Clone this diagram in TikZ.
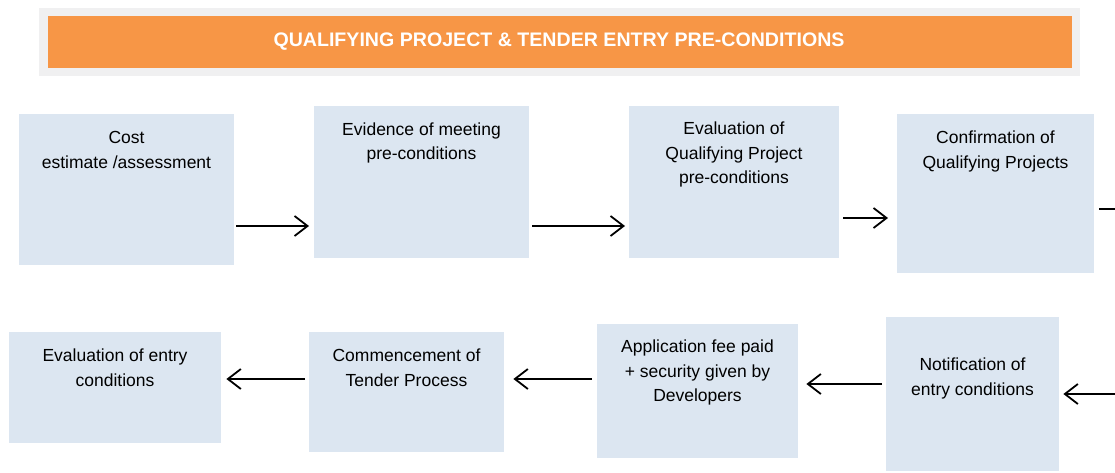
\documentclass[tikz,border=0pt]{standalone}
\usepackage{fontspec}
\setmainfont{Liberation Sans}
\usetikzlibrary{arrows.meta,calc}
\definecolor{boxblue}{HTML}{DCE6F1}
\definecolor{bannerorange}{HTML}{F79646}
\definecolor{bannergrey}{HTML}{F0F0F1}
\begin{document}
\begin{tikzpicture}[x=1pt,y=-1pt,
  stepbox/.style={fill=boxblue,draw=none,inner sep=0pt,anchor=north west},
  boxtext/.style={anchor=base,align=center,inner sep=0pt,font=\fontsize{17.5}{24.5}\selectfont},
  arr/.style={line width=1.8pt,-{Straight Barb[length=13pt,width=20pt,line width=1.8pt]}},
  plainline/.style={line width=1.8pt}]
\useasboundingbox (0,0) rectangle (1115,473);
% banner
\node[fill=bannergrey,inner sep=0pt,minimum width=1041pt,minimum height=68pt,anchor=north west] (bannerbg) at (39,8) {};
\node[fill=bannerorange,inner sep=0pt,minimum width=1024pt,minimum height=52pt,anchor=north west] (banner) at (48,16) {};
\node[text=white,font=\bfseries\fontsize{19.6}{24}\selectfont,inner sep=0pt] (title) at (559,42) {QUALIFYING PROJECT \& TENDER ENTRY PRE-CONDITIONS};
% row 1 boxes
\node[stepbox,minimum width=215pt,minimum height=151pt] (b1) at (19,114) {};
\node[stepbox,minimum width=215pt,minimum height=152pt] (b2) at (314,106) {};
\node[stepbox,minimum width=210pt,minimum height=152pt] (b3) at (629,106) {};
\node[stepbox,minimum width=197pt,minimum height=159pt] (b4) at (897,114) {};
% row 2 boxes
\node[stepbox,minimum width=212pt,minimum height=111pt] (b5) at (9,332) {};
\node[stepbox,minimum width=195pt,minimum height=120pt] (b6) at (309,332) {};
\node[stepbox,minimum width=201pt,minimum height=134pt] (b7) at (597,324) {};
\node[stepbox,minimum width=173pt,minimum height=154pt] (b8) at (886,317) {};
% texts (base = last line baseline)
\node[boxtext] (t1) at (126.5,168) {Cost\\estimate /assessment};
\node[boxtext] (t2) at (421.5,160) {Evidence of meeting\\pre-conditions};
\node[boxtext] (t3) at (734,183.5) {Evaluation of\\Qualifying Project\\pre-conditions};
\node[boxtext] (t4) at (995.5,168) {Confirmation of\\Qualifying Projects};
\node[boxtext] (t5) at (115,386) {Evaluation of entry\\conditions};
\node[boxtext] (t6) at (406.5,386) {Commencement of\\Tender Process};
\node[boxtext] (t7) at (697.5,401.5) {Application fee paid\\+ security given by\\Developers};
\node[boxtext] (t8) at (972.5,395) {Notification of\\entry conditions};
% connectors
\coordinate (outR) at (1116,209);
\coordinate (inR) at (1116,394);
\draw[arr] ($(b1.east|-0,226)+(2,0)$) -- ($(b2.west|-0,226)+(-5,0)$);
\draw[arr] ($(b2.east|-0,226)+(3,0)$) -- ($(b3.west|-0,226)+(-4,0)$);
\draw[arr] ($(b3.east|-0,218)+(4,0)$) -- ($(b4.west|-0,218)+(-9,0)$);
\draw[plainline] ($(b4.east|-0,209)+(5,0)$) -- (outR);
\draw[arr] (inR) -- ($(b8.east|-0,394)+(4,0)$);
\draw[arr] ($(b8.west|-0,384)+(-4,0)$) -- ($(b7.east|-0,384)+(8,0)$);
\draw[arr] ($(b7.west|-0,379)+(-5,0)$) -- ($(b6.east|-0,379)+(9,0)$);
\draw[arr] ($(b6.west|-0,379)+(-4,0)$) -- ($(b5.east|-0,379)+(5,0)$);
\end{tikzpicture}
\end{document}
